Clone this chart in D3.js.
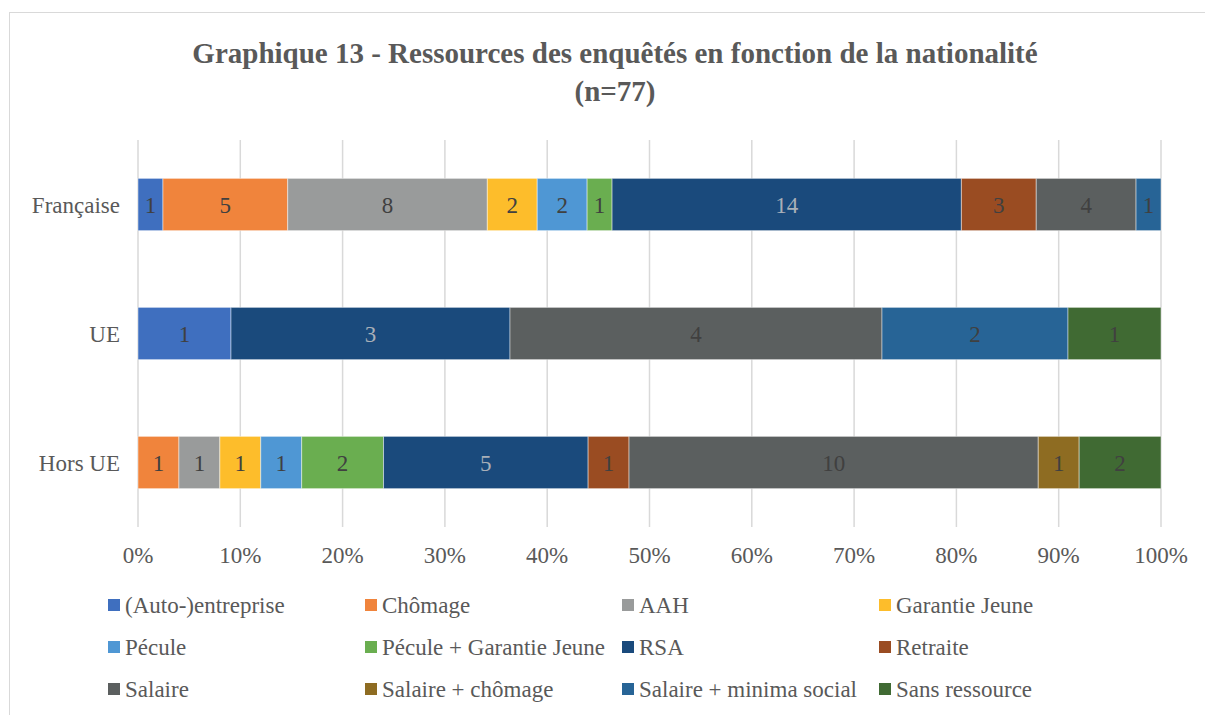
<html>
<head>
<meta charset="utf-8">
<script src="https://cdn.jsdelivr.net/npm/d3@7"></script>
<style>
svg text { font-family: "Times New Roman", "Liberation Serif", Tinos, serif !important; }
</style>
</head>
<body style="margin:0">
<svg id="chart"></svg>
<script>
var width = 1205, height = 715;
var FONT = "Times New Roman, Liberation Serif, serif";

var nationalities = ["Française", "UE", "Hors UE"];
var resources = ["(Auto-)entreprise", "Chômage", "AAH", "Garantie Jeune", "Pécule",
  "Pécule + Garantie Jeune", "RSA", "Retraite", "Salaire", "Salaire + chômage",
  "Salaire + minima social", "Sans ressource"];
var colors = ["#3f6fbf", "#f0843c", "#999b9b", "#fdbd2b", "#4f97d4", "#6aae50",
  "#1a4a7c", "#9a4c22", "#5b5f5f", "#8e6c22", "#276496", "#406a33"];

// counts per resource, in the order of resources
var francaise = [1, 5, 8, 2, 2, 1, 14, 3, 4, 0, 1, 0];
var ue        = [1, 0, 0, 0, 0, 0, 3, 0, 4, 0, 2, 1];
var horsUe    = [0, 1, 1, 1, 1, 2, 5, 1, 10, 1, 0, 2];
var tickValues = [0, 0.1, 0.2, 0.3, 0.4, 0.5, 0.6, 0.7, 0.8, 0.9, 1];

var rows = [francaise, ue, horsUe];

var svg = d3.select("#chart").attr("width", width).attr("height", height)
  .attr("font-family", FONT);

// chart frame
svg.append("rect")
  .attr("x", 9.5).attr("y", 12.5)
  .attr("width", width).attr("height", height)
  .attr("fill", "none").attr("stroke", "#d9d9d9");

svg.append("text")
  .attr("x", 615).attr("y", 63)
  .attr("text-anchor", "middle")
  .attr("font-size", 29).attr("font-weight", "bold")
  .attr("fill", "#595959")
  .text("Graphique 13 - Ressources des enquêtés en fonction de la nationalité");
svg.append("text")
  .attr("x", 615).attr("y", 101)
  .attr("text-anchor", "middle")
  .attr("font-size", 29).attr("font-weight", "bold")
  .attr("fill", "#595959")
  .text("(n=77)");

var x = d3.scaleLinear().domain([0, 1]).range([138, 1161]);
var y = d3.scaleBand().domain(nationalities).range([140, 527]).paddingInner(0.595).paddingOuter(0.2975);

// gridlines
svg.append("g").selectAll("line")
  .data(tickValues)
  .enter().append("line")
  .attr("x1", function(d) { return x(d); })
  .attr("x2", function(d) { return x(d); })
  .attr("y1", 140).attr("y2", 527)
  .attr("stroke", "#d9d9d9").attr("stroke-width", 1.5);

// stacked segments
var segs = [];
rows.forEach(function(vals, i) {
  var total = d3.sum(vals), acc = 0;
  vals.forEach(function(v, j) {
    if (v > 0) {
      segs.push({ nat: nationalities[i], res: j, v: v, x0: acc / total, x1: (acc + v) / total });
    }
    acc += v;
  });
});

var bars = svg.append("g");
bars.selectAll("rect")
  .data(segs)
  .enter().append("rect")
  .attr("x", function(d) { return x(d.x0); })
  .attr("width", function(d) { return x(d.x1) - x(d.x0); })
  .attr("y", function(d) { return y(d.nat); })
  .attr("height", y.bandwidth())
  .attr("fill", function(d) { return colors[d.res]; })
  .attr("stroke", "rgba(255,255,255,0.45)").attr("stroke-width", 1);

bars.selectAll("text")
  .data(segs)
  .enter().append("text")
  .attr("x", function(d) { return (x(d.x0) + x(d.x1)) / 2; })
  .attr("y", function(d) { return y(d.nat) + y.bandwidth() / 2 + 8; })
  .attr("text-anchor", "middle")
  .attr("font-size", 23)
  .attr("fill", function(d) { return d.res === 6 ? "#a9b0b8" : "#404040"; })
  .text(function(d) { return d.v; });

// category labels
svg.append("g").selectAll("text")
  .data(nationalities)
  .enter().append("text")
  .attr("x", 120)
  .attr("y", function(d) { return y(d) + y.bandwidth() / 2 + 8; })
  .attr("text-anchor", "end")
  .attr("font-size", 23)
  .attr("fill", "#595959")
  .text(function(d) { return d; });

// percentage labels
var pct = d3.format(".0%");
svg.append("g").selectAll("text")
  .data(tickValues)
  .enter().append("text")
  .attr("x", function(d) { return x(d); })
  .attr("y", 563)
  .attr("text-anchor", "middle")
  .attr("font-size", 23)
  .attr("fill", "#595959")
  .text(function(d) { return pct(d); });

// legend
var legend = svg.append("g").selectAll("g")
  .data(resources)
  .enter().append("g")
  .attr("transform", function(d, i) {
    return "translate(" + (108 + (i % 4) * 257) + "," + (605 + Math.floor(i / 4) * 42) + ")";
  });
legend.append("rect")
  .attr("x", 0).attr("y", -6).attr("width", 12).attr("height", 12)
  .attr("fill", function(d, i) { return colors[i]; });
legend.append("text")
  .attr("x", 17).attr("y", 8)
  .attr("font-size", 23)
  .attr("fill", "#595959")
  .text(function(d) { return d; });
</script>
</body>
</html>
